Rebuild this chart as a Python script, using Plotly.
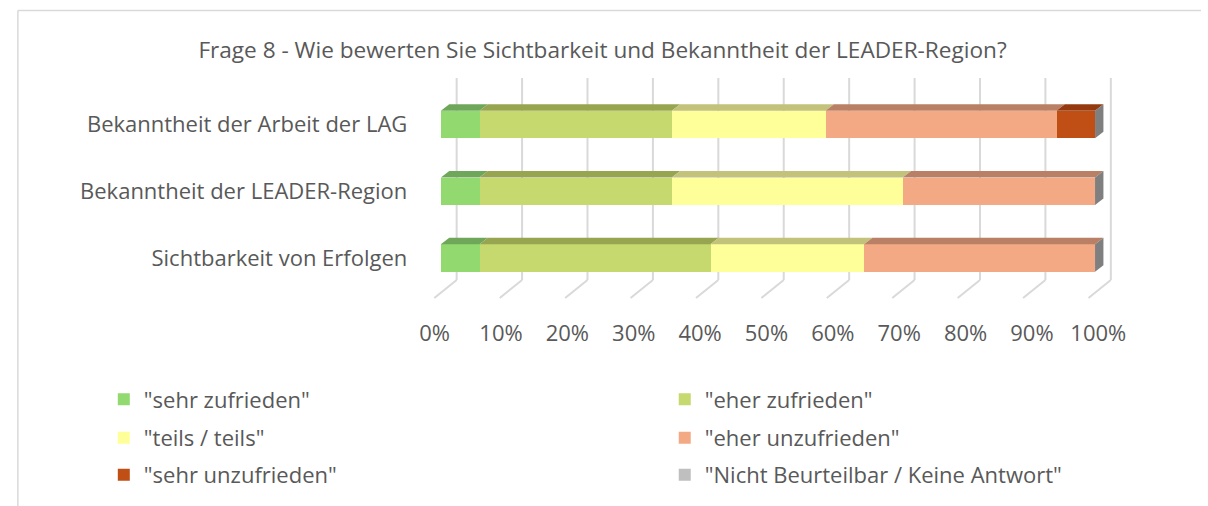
import plotly.graph_objects as go

# ---------------- data ----------------
categories = ["Bekanntheit der Arbeit der LAG",
              "Bekanntheit der LEADER-Region",
              "Sichtbarkeit von Erfolgen"]
series_names = ['"sehr zufrieden"', '"eher zufrieden"', '"teils / teils"',
                '"eher unzufrieden"', '"sehr unzufrieden"',
                '"Nicht Beurteilbar / Keine Antwort"']
sehr_zufrieden = [5.9, 5.9, 5.9]
eher_zufrieden = [29.4, 29.4, 35.3]
teils_teils = [23.5, 35.3, 23.5]
eher_unzufrieden = [35.3, 29.4, 35.3]
sehr_unzufrieden = [5.9, 0.0, 0.0]
nicht_beurteilbar = [0.0, 0.0, 0.0]
tick_values = [0, 10, 20, 30, 40, 50, 60, 70, 80, 90, 100]
tick_labels = ["0%", "10%", "20%", "30%", "40%", "50%", "60%", "70%", "80%", "90%", "100%"]
title_text = "Frage 8 - Wie bewerten Sie Sichtbarkeit und Bekanntheit der LEADER-Region?"

series_values = [sehr_zufrieden, eher_zufrieden, teils_teils,
                 eher_unzufrieden, sehr_unzufrieden, nicht_beurteilbar]

# ---------------- style ----------------
front_colors = ["#92D970", "#C5D96E", "#FFFF99", "#F3AA84", "#C04F15", "#BFBFBF"]
top_colors = ["#6FA75A", "#97A551", "#C3C27A", "#B98065", "#943A0E", "#8F8F8F"]
side_color = "#7F7F7F"
grid_color = "#D9D9D9"
text_color = "#595959"
font_family = "Open Sans"

W, H = 1208, 506
# pixel geometry of plot area
PX_LEFT, PX_RIGHT = 425, 1125
PX_TOP, PX_BOTTOM = 75, 300
X0_PX, PX_PER_X = 438.3, 6.624        # front-face 0% position and px per percent
LBL0_PX, LBL_PX_PER_X = 432.0, 6.72   # tick label positions
Y0_PX, PX_PER_Y = 258.0, 66.75        # bottom category centre, px per category step
BAR_W = 27.5 / PX_PER_Y
DEPTH_DX = 8.5 / PX_PER_X
DEPTH_DY = 6.5 / PX_PER_Y
GRID_DX = 16.0 / PX_PER_X
FLOOR_Y = -(280 - Y0_PX) / PX_PER_Y
FLOOR_FRONT_Y = -(298 - Y0_PX) / PX_PER_Y
FLOOR_FRONT_DX = -1.0
GRID_TOP_Y = (Y0_PX - 78) / PX_PER_Y

x_range = [(PX_LEFT - X0_PX) / PX_PER_X, (PX_RIGHT - X0_PX) / PX_PER_X]
x2_range = [(PX_LEFT - LBL0_PX) / LBL_PX_PER_X, (PX_RIGHT - LBL0_PX) / LBL_PX_PER_X]
y_range = [(Y0_PX - PX_BOTTOM) / PX_PER_Y, (Y0_PX - PX_TOP) / PX_PER_Y]

n_cat = len(categories)
y_pos = [n_cat - 1 - i for i in range(n_cat)]

# legend placement: two columns, three rows
legend_ids = ["legend", "legend2", "legend3", "legend4", "legend5", "legend6"]
legend_col_px = [97, 665]
legend_row_px = [399.5, 438, 475]

fig = go.Figure()
for name, vals, col, lg in zip(series_names, series_values, front_colors, legend_ids):
    fig.add_trace(go.Bar(
        y=y_pos, x=vals, name=name, orientation="h", width=BAR_W,
        marker=dict(color=col, line=dict(width=0)),
        legend=lg, hoverinfo="x+name"))

# helper invisible trace for label axis
fig.add_trace(go.Scatter(x=[tick_values[0], tick_values[-1]], y=[y_range[0], y_range[0]],
                         xaxis="x2", yaxis="y", mode="markers",
                         marker=dict(opacity=0), showlegend=False, hoverinfo="skip"))

shapes = []
# back wall gridlines and floor lines
for v in tick_values:
    shapes.append(dict(type="line", xref="x", yref="y", layer="below",
                       x0=v + GRID_DX, x1=v + GRID_DX, y0=FLOOR_Y, y1=GRID_TOP_Y,
                       line=dict(color=grid_color, width=2)))
    shapes.append(dict(type="line", xref="x", yref="y", layer="below",
                       x0=v + GRID_DX, x1=v + FLOOR_FRONT_DX, y0=FLOOR_Y, y1=FLOOR_FRONT_Y,
                       line=dict(color=grid_color, width=2)))

# 3D faces of bars computed from data
for ci in range(n_cat):
    yc = y_pos[ci]
    yt = yc + BAR_W / 2
    yb = yc - BAR_W / 2
    base = 0.0
    for si, vals in enumerate(series_values):
        v = vals[ci]
        if v > 0:
            x0, x1 = base, base + v
            path = (f"M{x0},{yt} L{x1},{yt} L{x1 + DEPTH_DX},{yt + DEPTH_DY} "
                    f"L{x0 + DEPTH_DX},{yt + DEPTH_DY} Z")
            shapes.append(dict(type="path", xref="x", yref="y", layer="above",
                               path=path, fillcolor=top_colors[si],
                               line=dict(width=0)))
        base += v
    path = (f"M{base},{yt} L{base + DEPTH_DX},{yt + DEPTH_DY} "
            f"L{base + DEPTH_DX},{yb + DEPTH_DY} L{base},{yb} Z")
    shapes.append(dict(type="path", xref="x", yref="y", layer="above",
                       path=path, fillcolor=side_color, line=dict(width=0)))

# chart border (top and left)
shapes.append(dict(type="line", xref="paper", yref="paper",
                   x0=10 / W, x1=1.0, y0=1 - 10.5 / H, y1=1 - 10.5 / H,
                   line=dict(color=grid_color, width=1.5)))
shapes.append(dict(type="line", xref="paper", yref="paper",
                   x0=10 / W, x1=10 / W, y0=0, y1=1 - 10.5 / H,
                   line=dict(color=grid_color, width=1.5)))

legends = {}
for i, lg in enumerate(legend_ids):
    legends[lg] = dict(orientation="v", xanchor="left", yanchor="middle",
                       x=legend_col_px[i % 2] / W, y=1 - legend_row_px[i // 2] / H,
                       font=dict(family=font_family, size=22, color=text_color),
                       bgcolor="rgba(0,0,0,0)", borderwidth=0)

fig.update_layout(
    width=W, height=H, autosize=False,
    margin=dict(l=0, r=0, t=0, b=0),
    paper_bgcolor="white", plot_bgcolor="rgba(0,0,0,0)",
    barmode="stack", bargap=0,
    font=dict(family=font_family, size=22, color=text_color),
    title=dict(text=title_text, x=602 / W, xanchor="center", y=1 - 50 / H,
               yanchor="middle", xref="paper", yref="paper",
               font=dict(family=font_family, size=22.6, color=text_color)),
    xaxis=dict(domain=[PX_LEFT / W, PX_RIGHT / W], range=x_range,
               showgrid=False, zeroline=False, showticklabels=False,
               showline=False, ticks="", fixedrange=True),
    xaxis2=dict(overlaying="x", anchor="y", side="bottom", range=x2_range,
                tickvals=tick_values, ticktext=tick_labels,
                showgrid=False, zeroline=False, showline=False,
                ticks="outside", ticklen=14, tickcolor="rgba(0,0,0,0)",
                tickfont=dict(family=font_family, size=22, color=text_color)),
    yaxis=dict(domain=[1 - PX_BOTTOM / H, 1 - PX_TOP / H], range=y_range,
               tickvals=y_pos, ticktext=categories,
               showgrid=False, zeroline=False, showline=False,
               ticks="outside", ticklen=15, tickcolor="rgba(0,0,0,0)",
               tickfont=dict(family=font_family, size=22, color=text_color)),
    shapes=shapes,
    **legends,
)

fig.write_html("out.html", config={"displayModeBar": False},
               post_script="document.body.style.margin='0px';")
